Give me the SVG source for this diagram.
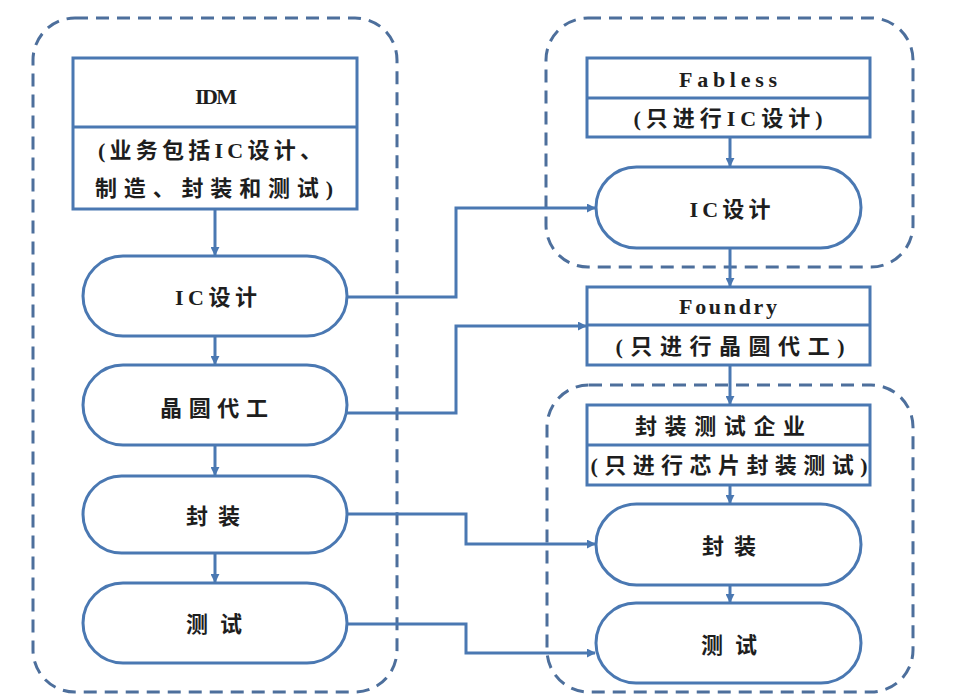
<svg xmlns="http://www.w3.org/2000/svg" width="970" height="700" viewBox="0 0 970 700">
<defs>
<style>
.grp{fill:none;stroke:#4d6f9c;stroke-width:3;stroke-dasharray:13 8}
.box{fill:#fff;stroke:#4a78b2;stroke-width:3}
.div{stroke:#4a78b2;stroke-width:3}
.con{fill:none;stroke:#4a78b2;stroke-width:3}
.t{font-family:"Liberation Serif","Noto Sans CJK SC",serif;font-size:22px;font-weight:bold;fill:#1e1e1e;text-anchor:middle;dominant-baseline:central}
</style>
<marker id="ah" viewBox="0 0 10 10" refX="9" refY="5" markerWidth="9" markerHeight="9" markerUnits="userSpaceOnUse" orient="auto">
<path d="M0,0 L10,5 L0,10 z" fill="#4a78b2"/>
</marker>
</defs>
<rect width="970" height="700" fill="#fff"/>

<g id="groups">
<rect class="grp" x="33" y="18" width="364" height="674" rx="42"/>
<rect class="grp" x="546" y="18" width="367" height="249" rx="42"/>
<rect class="grp" x="547" y="385" width="366" height="307" rx="42"/>
</g>

<g id="connectors">
<line class="con" x1="215" y1="209" x2="215" y2="255" marker-end="url(#ah)"/>
<line class="con" x1="215" y1="336" x2="215" y2="364" marker-end="url(#ah)"/>
<line class="con" x1="215" y1="445" x2="215" y2="475" marker-end="url(#ah)"/>
<line class="con" x1="215" y1="553" x2="215" y2="582" marker-end="url(#ah)"/>
<line class="con" x1="730" y1="137" x2="730" y2="166" marker-end="url(#ah)"/>
<line class="con" x1="730" y1="248" x2="730" y2="286" marker-end="url(#ah)"/>
<line class="con" x1="730" y1="365" x2="730" y2="404" marker-end="url(#ah)"/>
<line class="con" x1="730" y1="485" x2="730" y2="503" marker-end="url(#ah)"/>
<line class="con" x1="730" y1="585" x2="730" y2="602" marker-end="url(#ah)"/>
<polyline class="con" points="347,297 456,297 456,208 595,208" marker-end="url(#ah)"/>
<polyline class="con" points="347,413 456,413 456,326 586,326" marker-end="url(#ah)"/>
<polyline class="con" points="347,514 466,514 466,544 595,544" marker-end="url(#ah)"/>
<polyline class="con" points="347,624 466,624 466,653 595,653" marker-end="url(#ah)"/>
</g>

<g id="idm">
<rect class="box" x="73" y="58" width="284" height="151"/>
<line class="div" x1="73" y1="127" x2="357" y2="127"/>
<text class="t" x="216" y="96" textLength="42" lengthAdjust="spacing">IDM</text>
<text class="t" x="210" y="150" textLength="224" lengthAdjust="spacing">(业务包括IC设计、</text>
<text class="t" x="214" y="188" textLength="238" lengthAdjust="spacing">制造、封装和测试)</text>
</g>

<g id="idm-ic">
<rect class="box" x="83" y="256" width="264" height="80" rx="40"/>
<text class="t" x="216" y="297" textLength="82" lengthAdjust="spacing">IC设计</text>
</g>
<g id="idm-wafer">
<rect class="box" x="83" y="365" width="264" height="80" rx="40"/>
<text class="t" x="214" y="408" textLength="108" lengthAdjust="spacing">晶圆代工</text>
</g>
<g id="idm-pack">
<rect class="box" x="83" y="476" width="264" height="77" rx="38.5"/>
<text class="t" x="213" y="516" textLength="54" lengthAdjust="spacing">封装</text>
</g>
<g id="idm-test">
<rect class="box" x="83" y="583" width="264" height="80" rx="40"/>
<text class="t" x="214" y="624" textLength="56" lengthAdjust="spacing">测试</text>
</g>

<g id="fabless">
<rect class="box" x="587" y="58" width="283" height="79"/>
<line class="div" x1="587" y1="98" x2="870" y2="98"/>
<text class="t" x="728" y="79" textLength="98" lengthAdjust="spacing">Fabless</text>
<text class="t" x="728" y="118" textLength="189" lengthAdjust="spacing">(只进行IC设计)</text>
</g>
<g id="fabless-ic">
<rect class="box" x="596" y="167" width="265" height="81" rx="40.5"/>
<text class="t" x="730" y="209" textLength="81" lengthAdjust="spacing">IC设计</text>
</g>

<g id="foundry">
<rect class="box" x="587" y="287" width="283" height="78"/>
<line class="div" x1="587" y1="325" x2="870" y2="325"/>
<text class="t" x="728" y="306" textLength="98" lengthAdjust="spacing">Foundry</text>
<text class="t" x="730" y="346" textLength="229" lengthAdjust="spacing">(只进行晶圆代工)</text>
</g>

<g id="osat">
<rect class="box" x="587" y="405" width="283" height="80"/>
<line class="div" x1="587" y1="445" x2="870" y2="445"/>
<text class="t" x="720" y="426" textLength="170" lengthAdjust="spacing">封装测试企业</text>
<text class="t" x="729" y="465" textLength="277" lengthAdjust="spacing">(只进行芯片封装测试)</text>
</g>
<g id="osat-pack">
<rect class="box" x="596" y="504" width="265" height="81" rx="40.5"/>
<text class="t" x="729" y="546" textLength="54" lengthAdjust="spacing">封装</text>
</g>
<g id="osat-test">
<rect class="box" x="596" y="603" width="265" height="80" rx="40"/>
<text class="t" x="729" y="645" textLength="56" lengthAdjust="spacing">测试</text>
</g>
</svg>
